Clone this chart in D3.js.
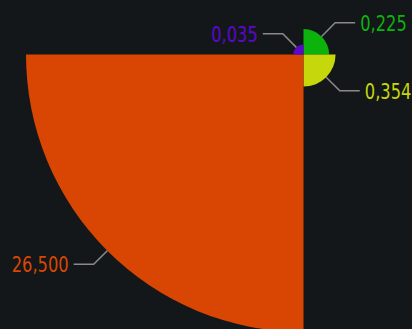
<!DOCTYPE html>
<html>
<head>
<meta charset="utf-8">
<script src="https://cdn.jsdelivr.net/npm/d3@7"></script>
<style>
  html, body { margin: 0; padding: 0; background: #131719; }
  #chart { width: 412px; height: 329px; position: relative; overflow: hidden; }
</style>
</head>
<body>
<div id="chart"></div>
<script>
// data
const categories = ["A", "B", "C", "D"];
const values = [0.225, 0.354, 26.5, 0.035];
const colors = ["#0db30d", "#c6d80b", "#d94604", "#5c07cf"];

const w = 412, h = 329;
const cx = 303.5, cy = 54.5;

const svg = d3.select("#chart").append("svg").attr("width", w).attr("height", h);
const g = svg.append("g").attr("transform", `translate(${cx}, ${cy})`);

// area-proportional radius
const rScale = d3.scaleSqrt().domain([0, d3.max(values)]).range([0, 277.5]);
const color = d3.scaleOrdinal().domain(categories).range(colors);

const pieLayout = d3.pie().value(() => 1).sort(null);
const arcs = pieLayout(categories.map((c, i) => ({ cat: c, value: values[i] })));

const arcGen = d3.arc().innerRadius(0).outerRadius(d => rScale(d.data.value));

g.selectAll("path.slice")
    .data(arcs)
    .join("path")
    .attr("class", "slice")
    .attr("fill", d => color(d.data.cat))
    .attr("d", arcGen);

// leader lines + labels
const fmt = v => d3.format(".3f")(v).replace(".", ",");
const diag = 13.6, horiz = 20, gap = 5;
const squeeze = 0.74; // narrow face look

arcs.forEach(d => {
    const a = (d.startAngle + d.endAngle) / 2;
    const r = rScale(d.data.value);
    const sx = Math.sin(a), sy = -Math.cos(a);
    const x0 = r * sx, y0 = r * sy;
    const x1 = x0 + diag * Math.sign(sx), y1 = y0 + diag * Math.sign(sy);
    const right = sx > 0;
    const x2 = x1 + (right ? horiz : -horiz);

    g.append("polyline")
        .attr("points", `${x0},${y0} ${x1},${y1} ${x2},${y1}`)
        .attr("fill", "none")
        .attr("stroke", "#8a8a8a")
        .attr("stroke-width", 1.5);

    g.append("g")
        .attr("transform", `translate(${x2 + (right ? gap : -gap)}, ${y1 + 8}) scale(${squeeze}, 1)`)
      .append("text")
        .attr("text-anchor", right ? "start" : "end")
        .attr("font-family", "'DejaVu Sans', sans-serif")
        .attr("font-size", "22px")
        .attr("fill", color(d.data.cat))
        .text(fmt(d.data.value));
});
</script>
</body>
</html>
